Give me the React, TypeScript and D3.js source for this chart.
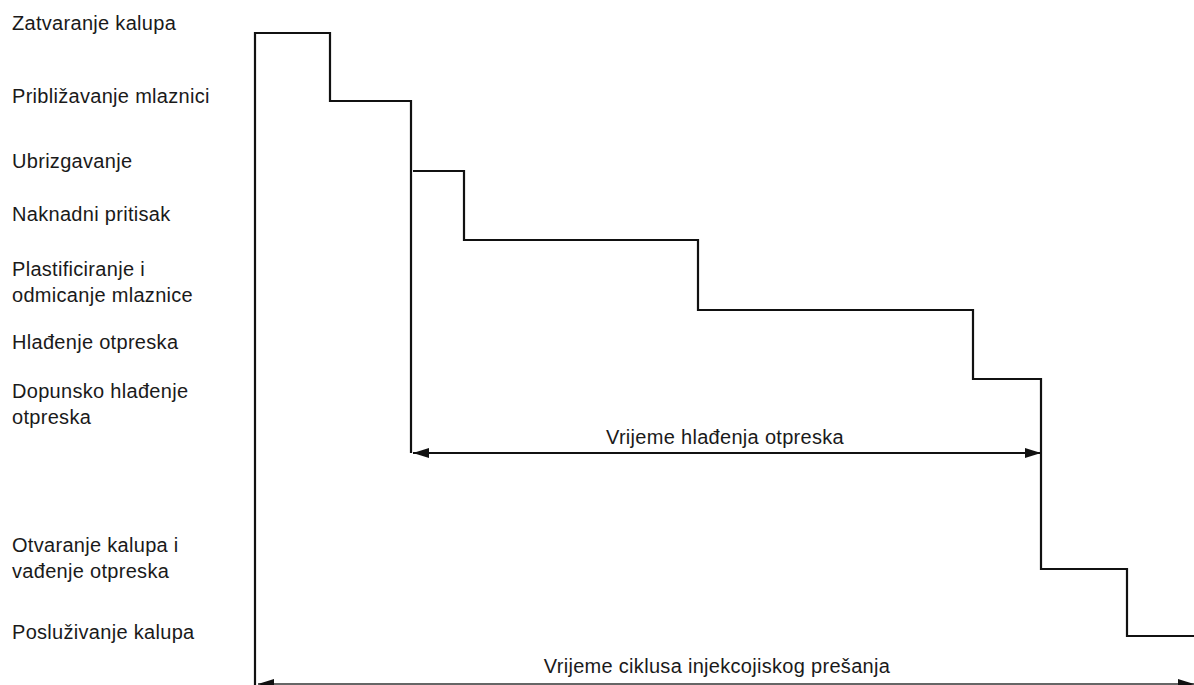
import React from "react";
import * as d3 from "d3";

// Phase boundaries along the time axis (time units from cycle start)
const stepTimes = [0, 75, 156, 209, 443, 718, 786, 872, 939];
// Level of each step (vertical position units, top = 0)
const stepLevels = [33, 101, 171, 240, 310, 379, 569, 636];
// Left-hand phase labels (lines) and their vertical positions
const phaseLabels: string[][] = [
  ["Zatvaranje kalupa"],
  ["Približavanje mlaznici"],
  ["Ubrizgavanje"],
  ["Naknadni pritisak"],
  ["Plastificiranje i", "odmicanje mlaznice"],
  ["Hlađenje otpreska"],
  ["Dopunsko hlađenje", "otpreska"],
  ["Otvaranje kalupa i", "vađenje otpreska"],
  ["Posluživanje kalupa"],
];
const labelRows = [23, 96, 161, 214, 282, 342, 404, 558, 632];
const coolingSpan = { start: 156, end: 786, level: 453, labelAt: 470, labelLevel: 437, label: "Vrijeme hlađenja otpreska" };
const cycleSpan = { start: 3, end: 939, level: 684, labelAt: 462, labelLevel: 666, label: "Vrijeme ciklusa injekcojiskog prešanja" };

const W = 1194;
const H = 685;

export default function App() {
  const x = d3.scaleLinear().domain([0, 939]).range([255, 1194]);
  const y = d3.scaleLinear().domain([0, 685]).range([0, 685]);

  const line = d3.line();
  // Up from the bottom, first two steps, then the vertical drops down to the cooling arrow
  const part1 = [
    [x(stepTimes[0]), y(685)],
    [x(stepTimes[0]), y(stepLevels[0])],
    [x(stepTimes[1]), y(stepLevels[0])],
    [x(stepTimes[1]), y(stepLevels[1])],
    [x(stepTimes[2]), y(stepLevels[1])],
    [x(stepTimes[2]), y(coolingSpan.level)],
  ] as [number, number][];
  const part2: [number, number][] = [];
  for (let i = 2; i < stepLevels.length; i++) {
    if (i > 2) part2.push([x(stepTimes[i]), y(stepLevels[i - 1])]);
    part2.push([x(stepTimes[i]) + (i === 2 ? 2 : 0), y(stepLevels[i])]);
    part2.push([x(stepTimes[i + 1]), y(stepLevels[i])]);
  }

  const arrowHead = (px: number, py: number, dir: number) => {
    const L = 16;
    const hw = 5;
    return `M${px},${py}L${px - dir * L},${py - hw}L${px - dir * L},${py + hw}Z`;
  };

  const fontFamily = "'Liberation Sans', Arial, Helvetica, sans-serif";
  const c1 = x(coolingSpan.start) + 2;
  const c2 = x(coolingSpan.end);
  const b1 = x(cycleSpan.start);
  const b2 = x(cycleSpan.end);

  return (
    <svg width={W} height={H} style={{ position: "absolute", left: 0, top: 0, background: "#fff" }}>
      <g fill="none" stroke="#111" strokeWidth={2.2} strokeLinejoin="miter">
        <path d={line(part1) || ""} />
        <path d={line(part2) || ""} />
        <line x1={c1} x2={c2} y1={y(coolingSpan.level)} y2={y(coolingSpan.level)} strokeWidth={2} />
        <line x1={b1} x2={b2} y1={y(cycleSpan.level)} y2={y(cycleSpan.level)} strokeWidth={1.6} stroke="#333" />
      </g>
      <g fill="#111">
        <path d={arrowHead(c1, y(coolingSpan.level), -1)} />
        <path d={arrowHead(c2, y(coolingSpan.level), 1)} />
        <path d={arrowHead(b1, y(cycleSpan.level), -1)} />
        <path d={arrowHead(b2, y(cycleSpan.level), 1)} />
      </g>
      <g fontFamily={fontFamily} fontSize={20} letterSpacing={0.3} fill="#1a1a1a">
        {phaseLabels.map((lines, i) => {
          const n = lines.length;
          return lines.map((t, j) => (
            <text
              key={`${i}-${j}`}
              x={12}
              y={y(labelRows[i]) + (j - (n - 1) / 2) * 26}
              dominantBaseline="central"
            >
              {t}
            </text>
          ));
        })}
        <text
          x={x(coolingSpan.labelAt)}
          y={y(coolingSpan.labelLevel)}
          textAnchor="middle"
          dominantBaseline="central"
        >
          {coolingSpan.label}
        </text>
        <text
          x={x(cycleSpan.labelAt)}
          y={y(cycleSpan.labelLevel)}
          textAnchor="middle"
          dominantBaseline="central"
        >
          {cycleSpan.label}
        </text>
      </g>
    </svg>
  );
}
